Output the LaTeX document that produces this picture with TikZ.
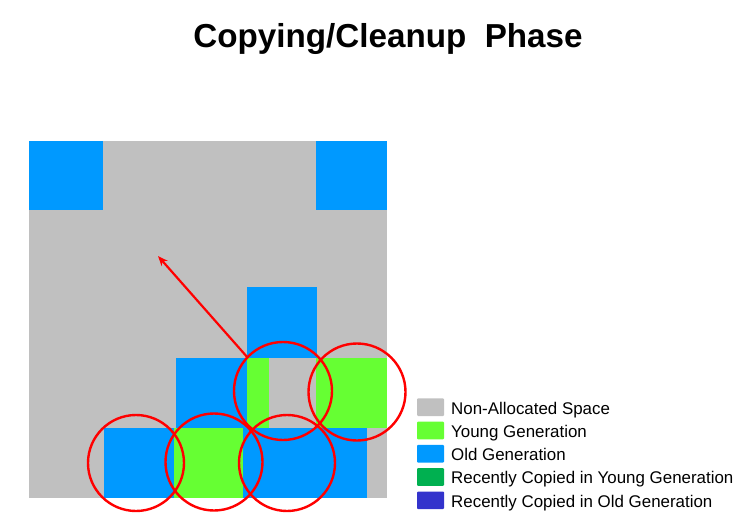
\documentclass[tikz,border=0pt]{standalone}
\usepackage{fontspec}
\setmainfont{Liberation Sans}
\usetikzlibrary{arrows.meta}
\definecolor{nonalloc}{HTML}{C0C0C0}
\definecolor{younggen}{HTML}{66FF33}
\definecolor{oldgen}{HTML}{0099FF}
\definecolor{copyyoung}{HTML}{00B050}
\definecolor{copyold}{HTML}{3333CC}
\definecolor{ringred}{HTML}{FF0000}
\tikzset{
  ring/.style={draw=ringred, line width=2.4pt},
  swatch/.style={rounded corners=1pt},
  legendtext/.style={anchor=base west, inner sep=0pt, font=\fontsize{16.9}{18}\selectfont},
  pointer/.style={draw=ringred, line width=2.2pt, -{Stealth[length=10pt,width=8pt]}}
}
\begin{document}
\begin{tikzpicture}[x=1pt,y=-1pt]
\useasboundingbox (0,0) rectangle (749,521);
% title
\node[anchor=base, inner sep=0pt, font=\fontsize{33.2}{38}\bfseries\selectfont] (title) at (388,48) {Copying/Cleanup\ \ Phase};
% memory area
\fill[nonalloc] (29,141) rectangle (387,498);
\fill[oldgen] (29,141) rectangle (103,210);
\fill[oldgen] (316,141) rectangle (387,210);
\fill[oldgen] (247,287) rectangle (317,358);
\fill[oldgen] (176,358) rectangle (247,428);
\fill[younggen] (247,358) rectangle (269,428);
\fill[younggen] (316,358) rectangle (387,428);
\fill[oldgen] (104,428) rectangle (174,498);
\fill[younggen] (174,428) rectangle (243,498);
\fill[oldgen] (243,428) rectangle (367,498);
% arrow
\coordinate (from) at (248,358);
\coordinate (to) at (158,256);
\draw[pointer] (from) -- (to);
% circles
\draw[ring] (136,463) circle (48);
\draw[ring] (214,462) circle (48.5);
\draw[ring] (287,463) circle (48);
\draw[ring] (283,391) circle (49);
\draw[ring] (357,392) circle (48.5);
% legend
\fill[swatch, nonalloc] (417,398.3) rectangle (444,416);
\fill[swatch, younggen] (417,421.6) rectangle (444,439.3);
\fill[swatch, oldgen] (417,444.9) rectangle (444,462.6);
\fill[swatch, copyyoung] (417,468.2) rectangle (444,485.9);
\fill[swatch, copyold] (417,491.5) rectangle (444,509.2);
\node[legendtext] (l1) at (451,414) {Non-Allocated Space};
\node[legendtext] (l2) at (451,437.3) {Young Generation};
\node[legendtext] (l3) at (451,460.6) {Old Generation};
\node[legendtext] (l4) at (451,483.9) {Recently Copied in Young Generation};
\node[legendtext] (l5) at (451,507.2) {Recently Copied in Old Generation};
\end{tikzpicture}
\end{document}
